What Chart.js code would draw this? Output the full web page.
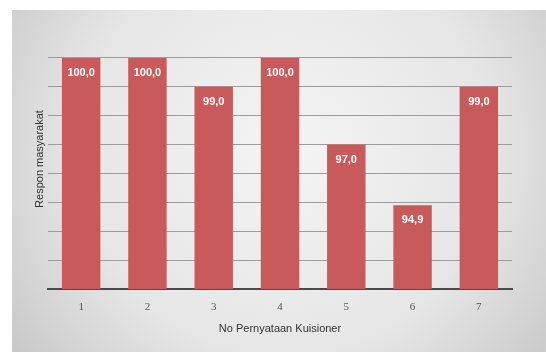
<!DOCTYPE html>
<html>
<head>
<meta charset="utf-8">
<script src="https://cdn.jsdelivr.net/npm/chart.js@4/dist/chart.umd.min.js"></script>
<style>
  html, body { margin: 0; padding: 0; background: #ffffff; }
  #wrap { width: 546px; height: 352px; }
</style>
</head>
<body>
<div id="wrap"><canvas id="c" width="546" height="352"></canvas></div>
<script>
// Nomor pernyataan kuisioner dan persentase respon masyarakat
const categories = ['1', '2', '3', '4', '5', '6', '7'];
const responValues = [100.0, 100.0, 99.0, 100.0, 97.0, 94.9, 99.0];
const yMin = 92;
const yMax = 101;
const yStep = 1;

const barColor = '#c95a5b';

// Panel abu-abu bergradasi di belakang grafik
const panelBackground = {
  id: 'panelBackground',
  beforeDraw(chart) {
    const ctx = chart.ctx;
    ctx.save();
    ctx.fillStyle = '#ffffff';
    ctx.fillRect(0, 0, chart.width, chart.height);
    const g = ctx.createRadialGradient(285, 150, 20, 285, 150, 360);
    g.addColorStop(0, '#f3f3f3');
    g.addColorStop(0.55, '#e6e6e6');
    g.addColorStop(1, '#c4c4c4');
    ctx.fillStyle = g;
    ctx.fillRect(12, 10, chart.width - 12, chart.height - 10);
    ctx.restore();
  }
};

// Label nilai di dalam ujung atas batang (format desimal koma)
const valueLabels = {
  id: 'valueLabels',
  afterDatasetsDraw(chart) {
    const ctx = chart.ctx;
    const meta = chart.getDatasetMeta(0);
    const data = chart.data.datasets[0].data;
    ctx.save();
    ctx.fillStyle = '#ffffff';
    ctx.font = 'bold 11px "Liberation Sans", Arial, sans-serif';
    ctx.textAlign = 'center';
    ctx.textBaseline = 'middle';
    meta.data.forEach((bar, i) => {
      const txt = data[i].toFixed(1).replace('.', ',');
      ctx.fillText(txt, bar.x, bar.y + 15);
    });
    ctx.restore();
  }
};

new Chart(document.getElementById('c'), {
  type: 'bar',
  data: {
    labels: categories,
    datasets: [{
      data: responValues,
      backgroundColor: barColor,
      borderWidth: 0,
      categoryPercentage: 1.0,
      barPercentage: 0.58
    }]
  },
  options: {
    responsive: false,
    animation: false,
    devicePixelRatio: 1,
    layout: { padding: { left: 12, right: 34, top: 29, bottom: 0 } },
    plugins: {
      legend: { display: false },
      tooltip: { enabled: false }
    },
    scales: {
      x: {
        grid: { display: false, drawTicks: false },
        border: { display: true, color: '#4a4a4a', width: 2 },
        ticks: {
          color: '#555555',
          padding: 12,
          font: { family: '"Liberation Serif", "Times New Roman", serif', size: 11 }
        },
        title: {
          display: true,
          text: 'No Pernyataan Kuisioner',
          color: '#333333',
          font: { family: '"Liberation Sans", Arial, sans-serif', size: 11 },
          padding: { top: 0, bottom: 16 }
        },
        afterFit(scale) { scale.height = 63; }
      },
      y: {
        min: yMin,
        max: yMax,
        ticks: { display: false, stepSize: yStep },
        grid: {
          drawTicks: false,
          color: (c) => (c.tick && c.tick.value >= yMax) ? 'rgba(0,0,0,0)' : '#9c9c9c',
          lineWidth: 1
        },
        border: { display: false },
        title: {
          display: true,
          text: 'Respon masyarakat',
          color: '#333333',
          font: { family: '"Liberation Sans", Arial, sans-serif', size: 11 },
          padding: { top: 21, bottom: 0 }
        },
        afterFit(scale) { scale.width = 36; }
      }
    }
  },
  plugins: [panelBackground, valueLabels]
});
</script>
</body>
</html>
